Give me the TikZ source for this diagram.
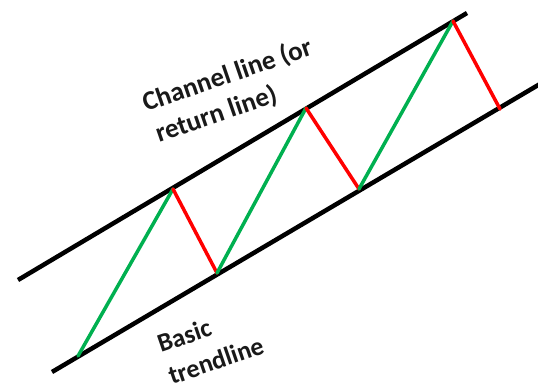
\documentclass[tikz,border=0pt]{standalone}
\usepackage{fontspec}
\setmainfont{Carlito}
\definecolor{grn}{RGB}{0,176,80}
\definecolor{rd}{RGB}{255,0,0}
\begin{document}
\begin{tikzpicture}[x=1pt,y=-1pt,
  chanline/.style={line width=4.5pt,draw=black},
  upleg/.style={line width=3.5pt,draw=grn,line cap=round},
  downleg/.style={line width=3.5pt,draw=rd,line cap=round},
  lbl/.style={font=\fontsize{27}{32}\selectfont\bfseries,text=black!90,inner sep=0pt,anchor=base west,rotate=19}]
\useasboundingbox (0,0) rectangle (538,389);
\clip (0,0) rectangle (538,389);
% channel lines
\coordinate (U0) at (18,280);
\coordinate (U1) at (467,13);
\coordinate (L0) at (52,372);
\coordinate (L1) at (545,81);
\draw[chanline] (U0) -- (U1);
\draw[chanline] (L0) -- (L1);
% zigzag
\coordinate (P1) at (78,356);
\coordinate (P2) at (173,189);
\coordinate (P3) at (217,273);
\coordinate (P4) at (306,108);
\coordinate (P5) at (359,189);
\coordinate (P6) at (453,21);
\coordinate (P7) at (500,109);
\draw[upleg] (P1) -- (P2);
\draw[downleg] (P2) -- (P3);
\draw[upleg] (P3) -- (P4);
\draw[downleg] (P4) -- (P5);
\draw[upleg] (P5) -- (P6);
\draw[downleg] (P6) -- (P7);
% labels
\node[lbl] (chanA) at (146,112) {Channel line (or};
\node[lbl] (chanB) at (159,143) {return line)};
\node[lbl,font=\fontsize{26}{32}\selectfont\bfseries] (basicA) at (161,353) {Basic};
\node[lbl,font=\fontsize{26}{32}\selectfont\bfseries] (basicB) at (172,385) {trendline};
\end{tikzpicture}
\end{document}
